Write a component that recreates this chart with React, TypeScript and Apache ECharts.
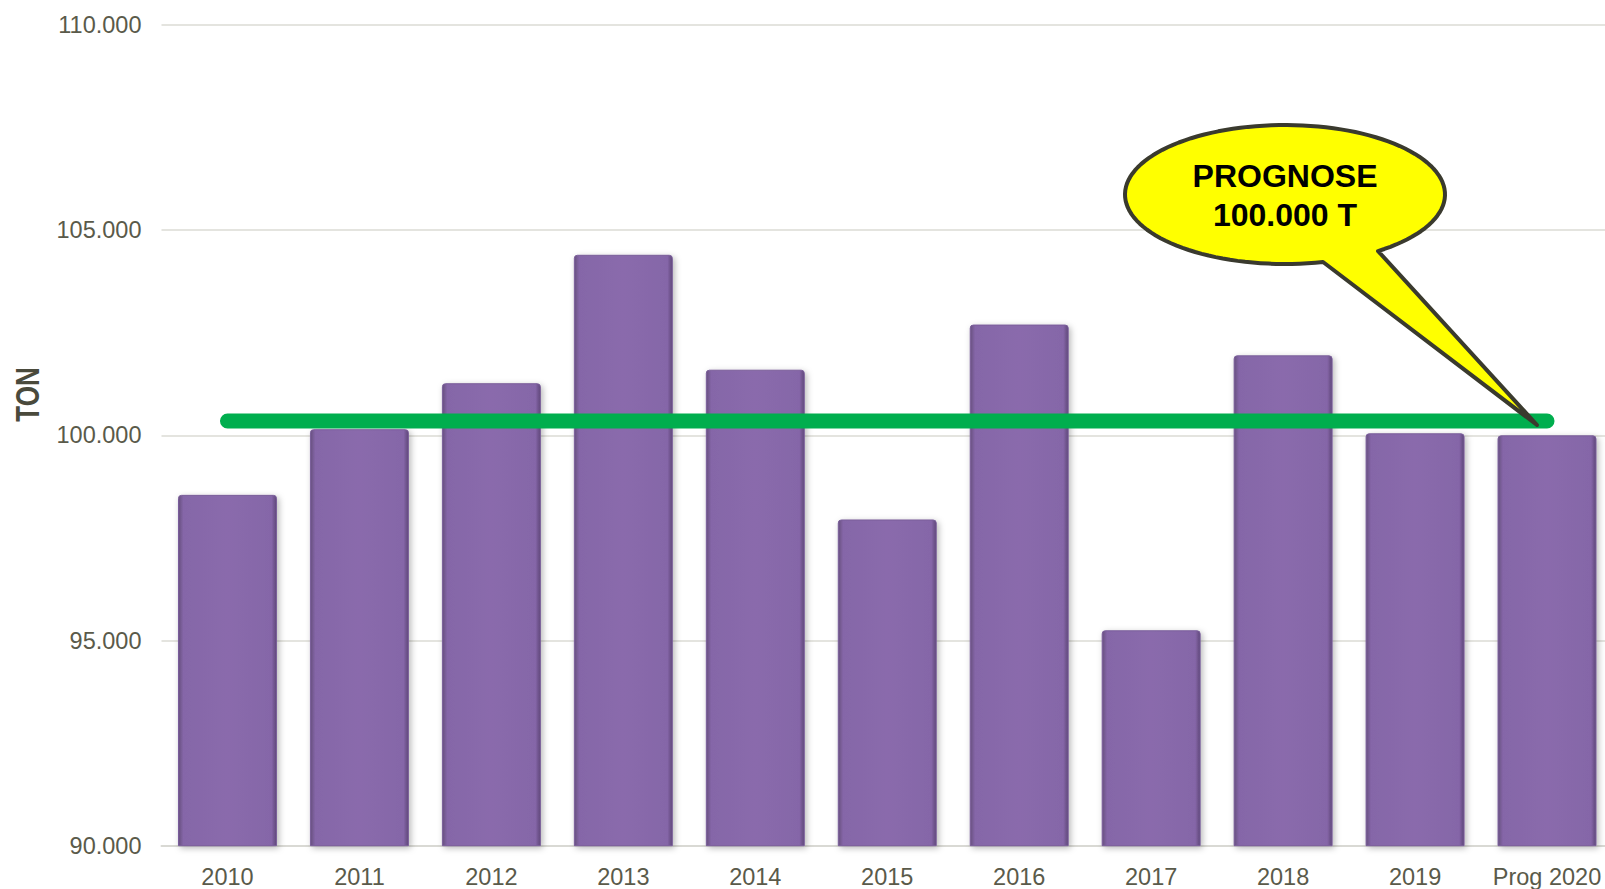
import React, { useEffect, useRef } from "react";
import * as echarts from "echarts";

const categories = ["2010", "2011", "2012", "2013", "2014", "2015", "2016", "2017", "2018", "2019", "Prog 2020"];
const tonnage = [98550, 100150, 101270, 104400, 101600, 97950, 102700, 95250, 101950, 100050, 100000];
const prognoseLine = [100350, 100350, 100350, 100350, 100350, 100350, 100350, 100350, 100350, 100350, 100350];
const yMin = 90000;
const yMax = 110000;
const yStep = 5000;
const axisTitle = "TON";
const calloutLines = ["PROGNOSE", "100.000 T"];

function fmt(v: number): string {
  const th = Math.floor(v / 1000);
  const rest = String(Math.round(v % 1000)).padStart(3, "0");
  return th + "." + rest;
}

function calloutPoints(): number[][] {
  const cx = 1285, cy = 194.5, rx = 160, ry = 69.5;
  const t0 = Math.atan2(56.5 / ry, 93 / rx);
  const t1 = Math.atan2(67.5 / ry, 38 / rx) - Math.PI * 2;
  const pts: number[][] = [];
  const n = 120;
  for (let i = 0; i <= n; i++) {
    const t = t0 + ((t1 - t0) * i) / n;
    pts.push([cx + rx * Math.cos(t), cy + ry * Math.sin(t)]);
  }
  pts.push([1537, 425]);
  return pts;
}

export default function App() {
  const ref = useRef<HTMLDivElement>(null);
  useEffect(() => {
    if (!ref.current) return;
    const chart = echarts.init(ref.current, null, { renderer: "svg" });
    const labelColor = "#5a5a4a";
    const font = "'Liberation Sans', Arial, sans-serif";
    chart.setOption({
      animation: false,
      backgroundColor: "#ffffff",
      grid: { left: 161.5, top: 25, right: 0, bottom: 43.3, containLabel: false },
      xAxis: {
        type: "category",
        data: categories,
        axisLine: { show: true, lineStyle: { color: "#d9d9d4", width: 2 } },
        axisTick: { show: false },
        axisLabel: { color: labelColor, fontSize: 23.5, fontFamily: font, margin: 19, interval: 0 },
      },
      yAxis: {
        type: "value",
        min: yMin,
        max: yMax,
        interval: yStep,
        axisLine: { show: false },
        axisTick: { show: false },
        splitLine: { lineStyle: { color: "#e4e4df", width: 2 } },
        axisLabel: {
          color: labelColor,
          fontSize: 23.5,
          fontFamily: font,
          margin: 20,
          formatter: (v: number) => fmt(v),
        },
      },
      series: [
        {
          type: "bar",
          data: tonnage,
          barWidth: "75%",
          itemStyle: {
            color: new echarts.graphic.LinearGradient(0, 0, 1, 0, [
              { offset: 0, color: "#67507f" },
              { offset: 0.05, color: "#8566a8" },
              { offset: 0.5, color: "#8a6bac" },
              { offset: 0.95, color: "#8566a8" },
              { offset: 1, color: "#5f4779" },
            ]),
            borderRadius: [3, 3, 0, 0],
            borderColor: "#7a5e9a",
            borderWidth: 1,
            shadowColor: "rgba(0,0,0,0.28)",
            shadowBlur: 6,
            shadowOffsetX: 2,
            shadowOffsetY: 2,
          },
          z: 2,
        },
        {
          type: "line",
          data: prognoseLine,
          symbol: "none",
          silent: true,
          lineStyle: {
            color: "#00ae4e",
            width: 15,
            cap: "round",
          },
          z: 3,
        },
      ],
      graphic: [
        {
          type: "text",
          x: 27.5,
          y: 394.5,
          rotation: Math.PI / 2,
          scaleY: 1.3,
          style: {
            text: axisTitle,
            fill: "#4a4a3c",
            font: "bold 26px " + font,
            textAlign: "center",
            textVerticalAlign: "middle",
          },
        },
        {
          type: "polygon",
          z: 100,
          shape: { points: calloutPoints() },
          style: { fill: "#ffff00", stroke: "#3a3a2e", lineWidth: 4, lineJoin: "round" },
        },
        {
          type: "text",
          z: 101,
          x: 1285,
          y: 175.5,
          style: {
            text: calloutLines[0],
            fill: "#000000",
            font: "bold 32px " + font,
            textAlign: "center",
            textVerticalAlign: "middle",
          },
        },
        {
          type: "text",
          z: 101,
          x: 1285,
          y: 214.5,
          style: {
            text: calloutLines[1],
            fill: "#000000",
            font: "bold 32px " + font,
            textAlign: "center",
            textVerticalAlign: "middle",
          },
        },
      ],
    });
    return () => chart.dispose();
  }, []);
  return <div ref={ref} style={{ position: "fixed", left: 0, top: 0, width: 1613, height: 889 }} />;
}
